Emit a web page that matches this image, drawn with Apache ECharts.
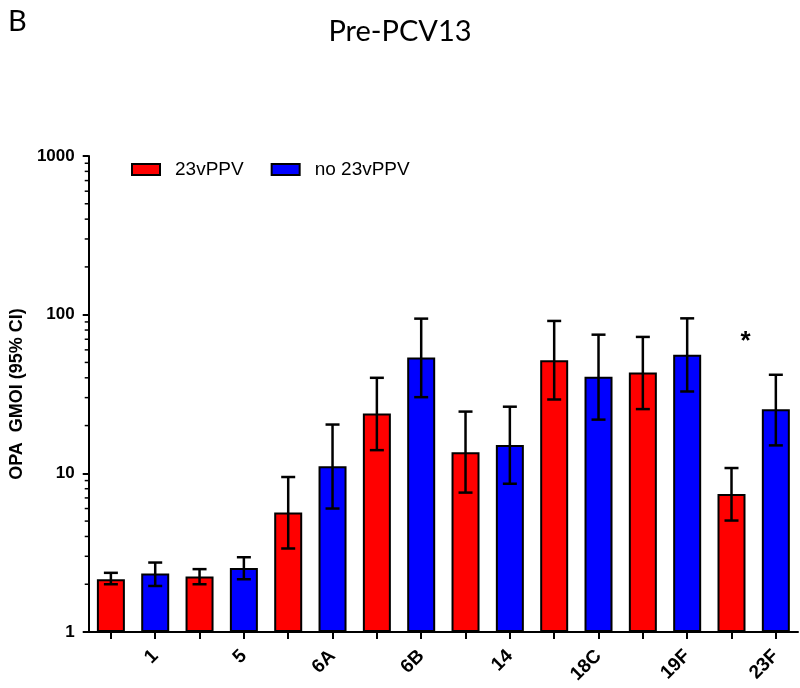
<!DOCTYPE html>
<html>
<head>
<meta charset="utf-8">
<script src="https://cdn.jsdelivr.net/npm/echarts@6/dist/echarts.min.js"></script>
<style>html,body{margin:0;padding:0;background:#fff}#c{width:800px;height:688px}</style>
</head>
<body>
<div id="c"></div>
<script>
// ---- data ----
const serotypes = ['1', '5', '6A', '6B', '14', '18C', '19F', '23F'];
const gmoiPPV   = [2.15, 2.24, 5.66, 23.8, 13.6, 51.6, 43.2, 7.41];
const lowPPV    = [2.0, 2.0, 3.36, 14.0, 7.56, 29.2, 25.4, 5.04];
const highPPV   = [2.36, 2.49, 9.48, 40.0, 24.5, 91.3, 72.4, 10.8];
const gmoiNo    = [2.34, 2.53, 11.1, 53.7, 15.1, 40.6, 55.8, 25.3];
const lowNo     = [1.95, 2.15, 6.0, 30.2, 8.6, 21.8, 32.8, 15.0];
const highNo    = [2.74, 2.96, 20.3, 94.4, 26.3, 74.8, 94.8, 41.8];
const yTicks    = [1, 10, 100, 1000];
const minorTickValues = [2,3,4,5,6,7,8,9,20,30,40,50,60,70,80,90,200,300,400,500,600,700,800,900];
const significant = '23F';
const significanceLevel = 67;
const seriesNames = ['23vPPV', 'no 23vPPV'];

// ---- build ----
const slots = [];
serotypes.forEach(s => { slots.push(s + ' ' + seriesNames[0]); slots.push(s + ' ' + seriesNames[1]); });
const redData = slots.map((_, i) => i % 2 === 0 ? gmoiPPV[i / 2] : '-');
const blueData = slots.map((_, i) => i % 2 === 1 ? gmoiNo[(i - 1) / 2] : '-');
const errData = [];
serotypes.forEach((s, k) => {
  errData.push([2 * k, lowPPV[k], highPPV[k]]);
  errData.push([2 * k + 1, lowNo[k], highNo[k]]);
});
const sigIdx = serotypes.indexOf(significant);

const chart = echarts.init(document.getElementById('c'), null, {renderer: 'canvas'});
const font = '"Liberation Sans", Arial, sans-serif';
chart.setOption({
  animation: false,
  backgroundColor: '#fff',
  title: [
    {text: 'Pre-PCV13', left: 'center', top: 12,
     textStyle: {fontFamily: 'Lato, "Open Sans", sans-serif', fontWeight: 'normal', fontSize: 29, color: '#000'}},
    {text: 'B', left: 3, top: 2,
     textStyle: {fontFamily: 'Lato, "Open Sans", sans-serif', fontWeight: 'normal', fontSize: 29, color: '#000'}}
  ],
  legend: {
    data: seriesNames, left: 126, top: 155, itemWidth: 28, itemHeight: 11, itemGap: 27,
    icon: 'rect',
    textStyle: {fontFamily: font, fontSize: 19, color: '#000', padding: [0, 0, 0, 10]}
  },
  grid: {left: 88, right: 2, top: 156, bottom: 56, containLabel: false},
  xAxis: {
    type: 'category', data: slots,
    axisLine: {lineStyle: {color: '#000', width: 2}},
    axisTick: {show: true, alignWithLabel: true, interval: 0, length: 7, lineStyle: {color: '#000', width: 2}},
    axisLabel: {
      interval: 0, rotate: 45, margin: 21,
      fontFamily: font, fontWeight: 'bold', fontSize: 19, color: '#000',
      formatter: (v, i) => i % 2 === 1 ? serotypes[(i - 1) / 2] : ''
    },
    splitLine: {show: false}
  },
  yAxis: {
    type: 'log', logBase: 10, min: yTicks[0], max: yTicks[yTicks.length - 1],
    name: 'OPA  GMOI (95% CI)', nameLocation: 'middle', nameGap: 58, nameRotate: 90,
    nameTextStyle: {fontFamily: font, fontWeight: 'bold', fontSize: 18, color: '#000'},
    axisLine: {show: true, lineStyle: {color: '#000', width: 2}},
    axisTick: {show: true, length: 6, lineStyle: {color: '#000', width: 2}},
    axisLabel: {fontFamily: font, fontWeight: 'bold', fontSize: 17, color: '#000', margin: 14,
      formatter: v => String(Math.round(v))},
    splitLine: {show: false}
  },
  series: [
    {name: seriesNames[0], type: 'bar', data: redData, barWidth: 28, barGap: '-100%',
     itemStyle: {color: '#ff0000', borderColor: '#000', borderWidth: 2},
     markPoint: {
       symbol: 'circle', symbolSize: 0,
       label: {show: true, formatter: '*', fontFamily: font, fontWeight: 'bold', fontSize: 26, color: '#000', offset: [14, 0]},
       data: [{coord: [2 * sigIdx, significanceLevel]}]
     }},
    {name: seriesNames[1], type: 'bar', data: blueData, barWidth: 28, barGap: '-100%',
     itemStyle: {color: '#0000ff', borderColor: '#000', borderWidth: 2}},
    {type: 'custom', silent: true, data: errData, encode: {x: 0, y: [1, 2]}, z: 5,
     renderItem: (params, api) => {
       const lo = api.coord([api.value(0), api.value(1)]);
       const hi = api.coord([api.value(0), api.value(2)]);
       const w = 7;
       const st = {stroke: '#000', lineWidth: 2.5};
       return {type: 'group', children: [
         {type: 'line', shape: {x1: hi[0], y1: hi[1], x2: lo[0], y2: lo[1]}, style: st},
         {type: 'line', shape: {x1: hi[0] - w, y1: hi[1], x2: hi[0] + w, y2: hi[1]}, style: st},
         {type: 'line', shape: {x1: lo[0] - w, y1: lo[1], x2: lo[0] + w, y2: lo[1]}, style: st}
       ]};
     }},
    {type: 'custom', silent: true, data: minorTickValues.map(v => [0, v]), encode: {x: 0, y: 1}, z: 5,
     renderItem: (params, api) => {
       const p = api.coord([0, api.value(1)]);
       const x0 = params.coordSys.x;
       return {type: 'line', shape: {x1: x0 - 4, y1: p[1], x2: x0, y2: p[1]}, style: {stroke: '#000', lineWidth: 1.5}};
     }}
  ]
});
</script>
</body>
</html>
